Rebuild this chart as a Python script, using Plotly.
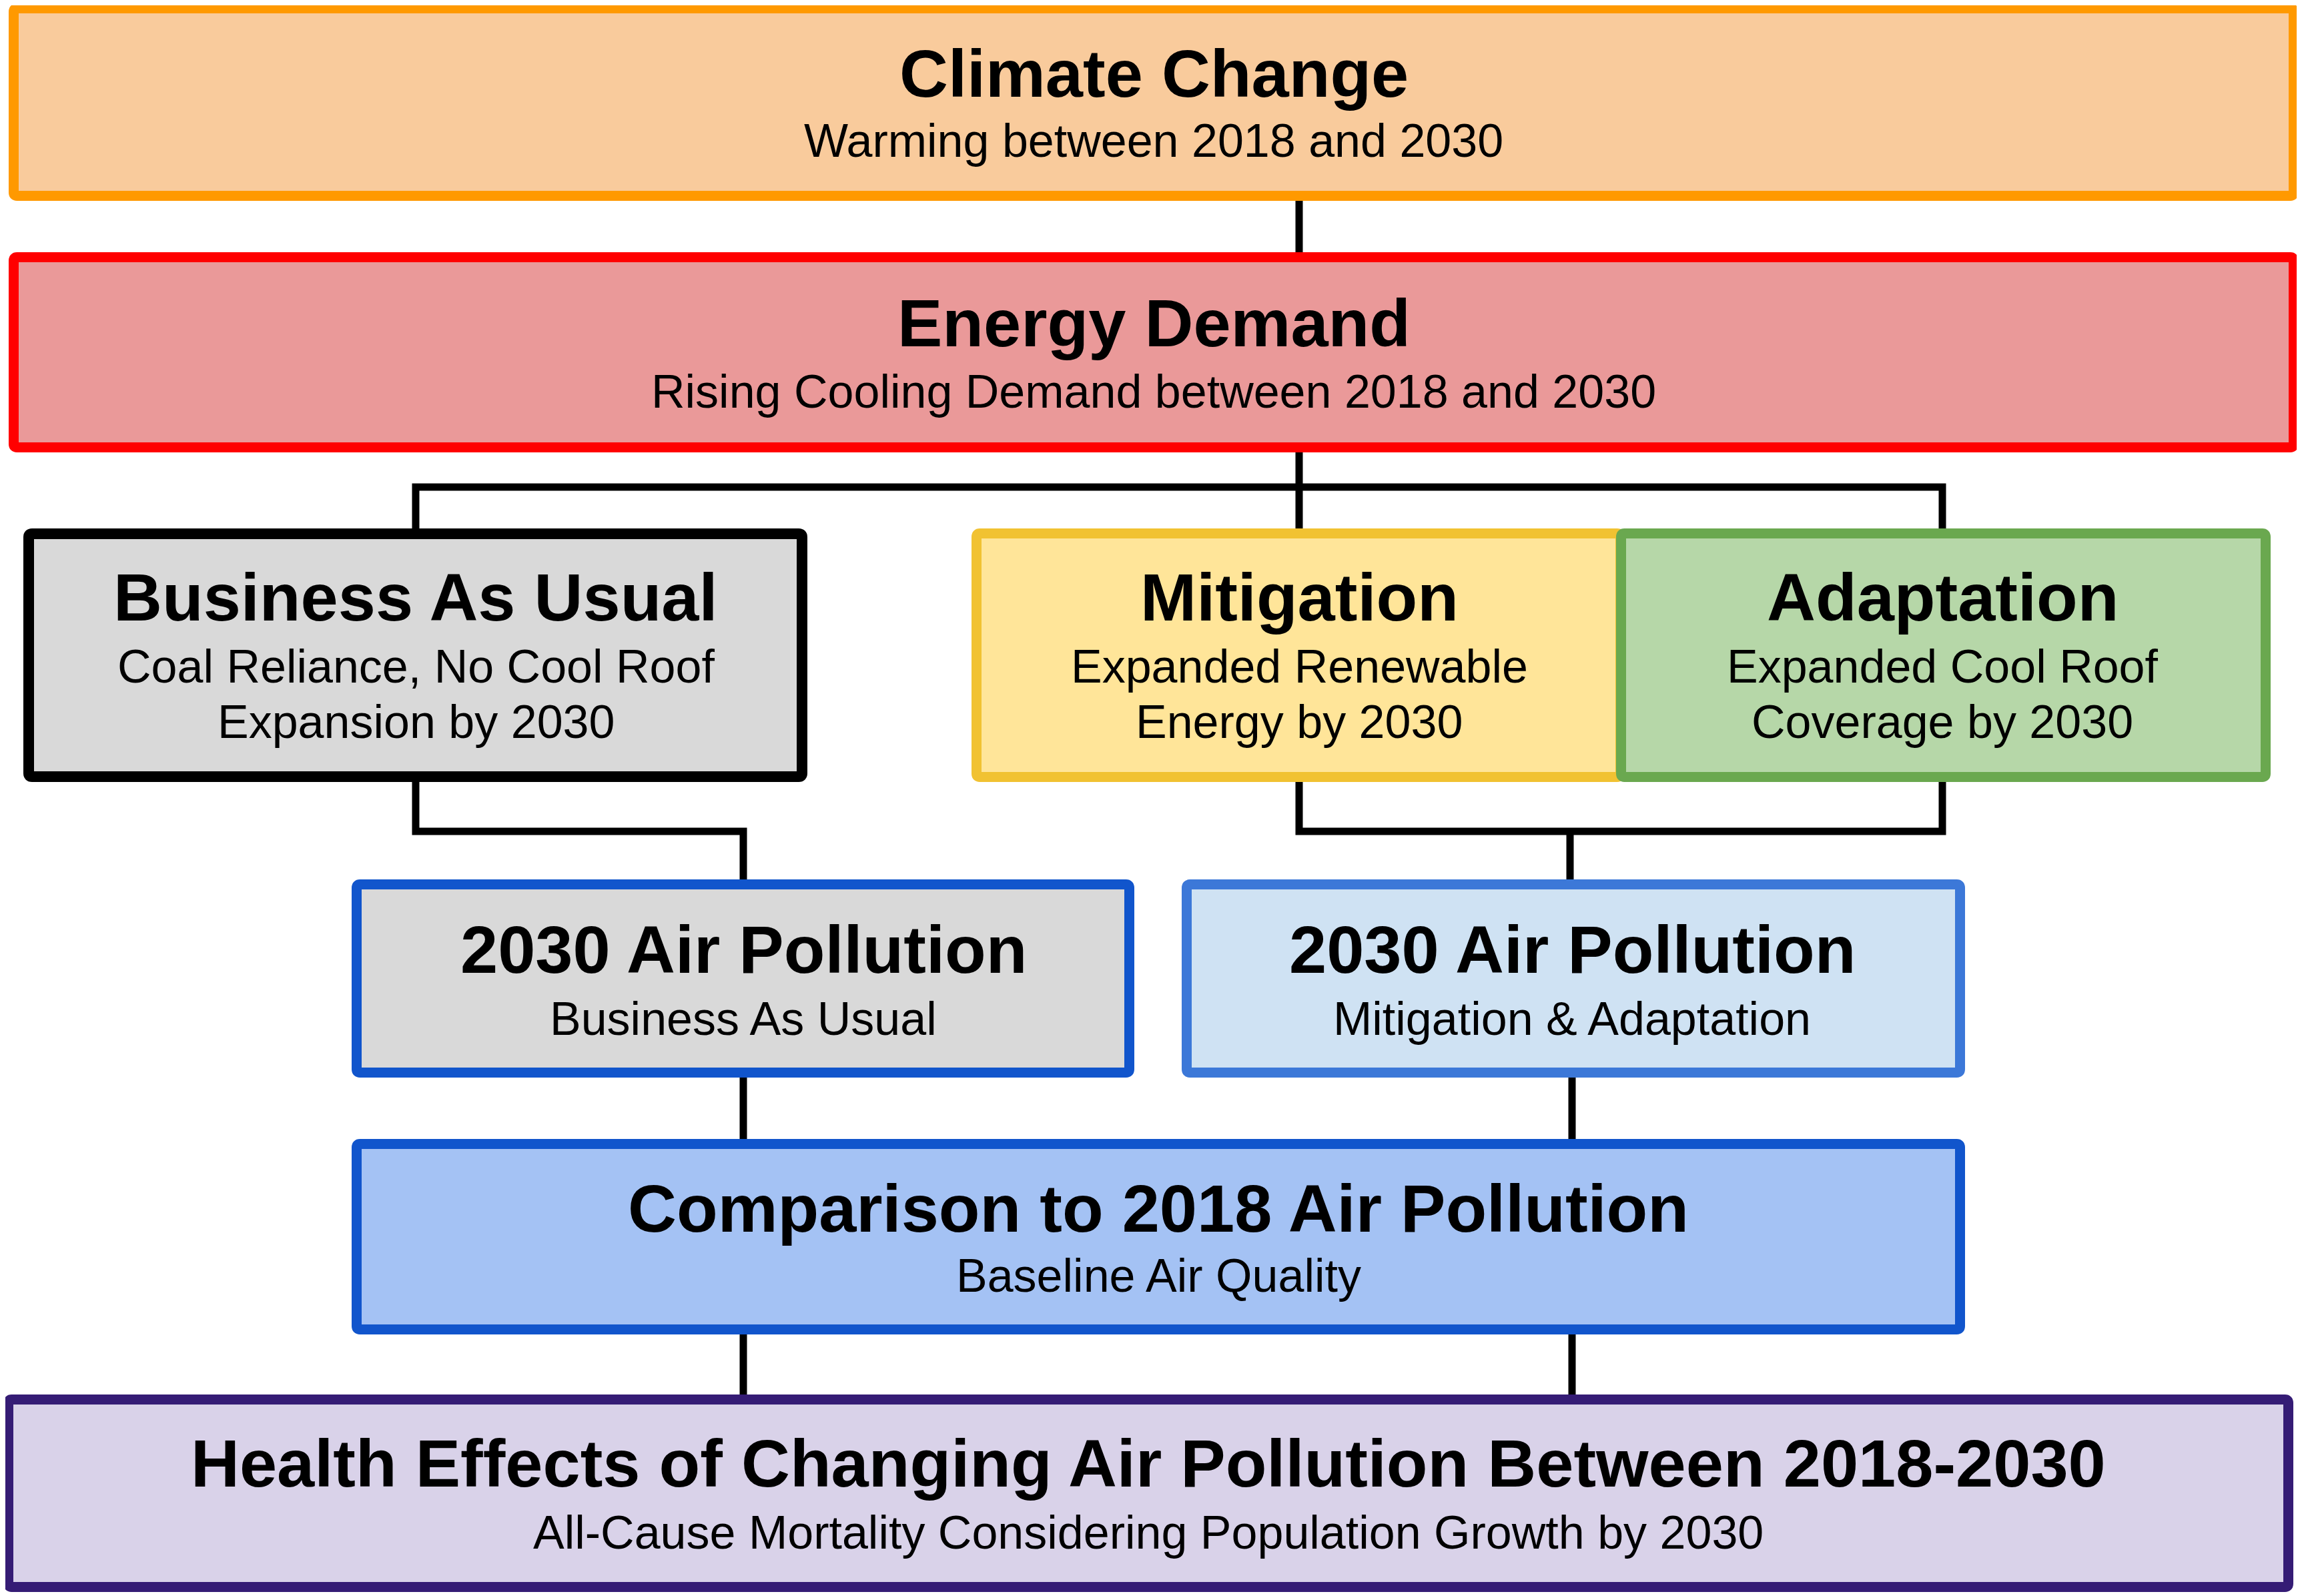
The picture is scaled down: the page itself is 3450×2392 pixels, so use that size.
import plotly.graph_objects as go

# ---- content ----
titles = ["Climate Change", "Energy Demand", "Business As Usual", "Mitigation", "Adaptation",
          "2030 Air Pollution", "2030 Air Pollution", "Comparison to 2018 Air Pollution",
          "Health Effects of Changing Air Pollution Between 2018-2030"]
subtitles = [["Warming between 2018 and 2030"],
             ["Rising Cooling Demand between 2018 and 2030"],
             ["Coal Reliance, No Cool Roof", "Expansion by 2030"],
             ["Expanded Renewable", "Energy by 2030"],
             ["Expanded Cool Roof", "Coverage by 2030"],
             ["Business As Usual"],
             ["Mitigation & Adaptation"],
             ["Baseline Air Quality"],
             ["All-Cause Mortality Considering Population Growth by 2030"]]

# ---- layout (pixel space of the reference image) ----
W, H = 3450, 2392
OFF = 8  # default page body margin
boxes = [  # outer x0, x1, y0, y1
    (13, 3445, 5, 301),
    (13, 3445, 378, 678),
    (35, 1210, 792, 1172),
    (1456, 2436, 792, 1172),
    (2422, 3403, 792, 1172),
    (527, 1700, 1318, 1615),
    (1771, 2945, 1318, 1615),
    (527, 2945, 1707, 2000),
    (5, 3437, 2090, 2386),
]
text_x = [1729, 1729, 623, 1947, 2911, 1114, 2356, 1736, 1721]
title_y = [110, 484, 895, 895, 895, 1423, 1423, 1811, 2193]
sub_y = [[211], [587], [999, 1082], [999, 1082], [999, 1082], [1527], [1527], [1912], [2297]]
border_col = ["#ff9900", "#ff0000", "#000000", "#f1c232", "#6aa84f", "#1155cc", "#3c78d8", "#1155cc", "#351c75"]
fill_col = ["#f9cb9c", "#ea9999", "#d9d9d9", "#ffe599", "#b6d7a8", "#d9d9d9", "#cfe2f3", "#a4c2f4", "#d9d2e9"]
border_w = [15, 15, 16, 15, 15, 15, 15, 15, 15]

connectors = [  # polylines
    [(1947, 301), (1947, 378)],
    [(1947, 678), (1947, 792)],
    [(623, 792), (623, 730), (2911, 730), (2911, 792)],
    [(623, 1172), (623, 1246), (1114, 1246), (1114, 1318)],
    [(1947, 1172), (1947, 1246), (2911, 1246), (2911, 1172)],
    [(2353, 1246), (2353, 1318)],
    [(1114, 1615), (1114, 1707)],
    [(2356, 1615), (2356, 1707)],
    [(1114, 2000), (1114, 2090)],
    [(2356, 2000), (2356, 2090)],
]

def rounded(x0, y0, x1, y1, r):
    return (f"M {x0+r},{y0} L {x1-r},{y0} Q {x1},{y0} {x1},{y0+r} "
            f"L {x1},{y1-r} Q {x1},{y1} {x1-r},{y1} L {x0+r},{y1} "
            f"Q {x0},{y1} {x0},{y1-r} L {x0},{y0+r} Q {x0},{y0} {x0+r},{y0} Z")

fig = go.Figure()
fig.add_trace(go.Scatter(x=[OFF, W + OFF], y=[OFF, H + OFF], mode="markers", marker=dict(opacity=0),
                         hoverinfo="skip", showlegend=False))

shapes = []
for pts in connectors:
    path = "M " + " L ".join(f"{x},{y}" for x, y in pts)
    shapes.append(dict(type="path", path=path, xref="x", yref="y",
                       line=dict(color="#000000", width=11)))
for i, (x0, x1, y0, y1) in enumerate(boxes):
    hw = border_w[i] / 2
    shapes.append(dict(type="path", path=rounded(x0 + hw, y0 + hw, x1 - hw, y1 - hw, 5),
                       xref="x", yref="y", fillcolor=fill_col[i],
                       line=dict(color=border_col[i], width=border_w[i])))

annotations = []
FONT = "Liberation Sans, Arial, sans-serif"
for i in range(len(titles)):
    cx = text_x[i]
    annotations.append(dict(x=cx, y=title_y[i], xref="x", yref="y", text="<b>" + titles[i] + "</b>",
                            showarrow=False, xanchor="center", yanchor="middle",
                            font=dict(family=FONT, size=101, color="#000000")))
    for line, yy in zip(subtitles[i], sub_y[i]):
        annotations.append(dict(x=cx, y=yy, xref="x", yref="y", text=line,
                                showarrow=False, xanchor="center", yanchor="middle",
                                font=dict(family=FONT, size=70, color="#000000")))

fig.update_layout(
    width=W, height=H, margin=dict(l=0, r=0, t=0, b=0),
    paper_bgcolor="#ffffff", plot_bgcolor="#ffffff",
    xaxis=dict(range=[OFF, W + OFF], visible=False, fixedrange=True),
    yaxis=dict(range=[H + OFF, OFF], visible=False, fixedrange=True),
    shapes=shapes, annotations=annotations, showlegend=False,
)
fig.write_html("out.html")
